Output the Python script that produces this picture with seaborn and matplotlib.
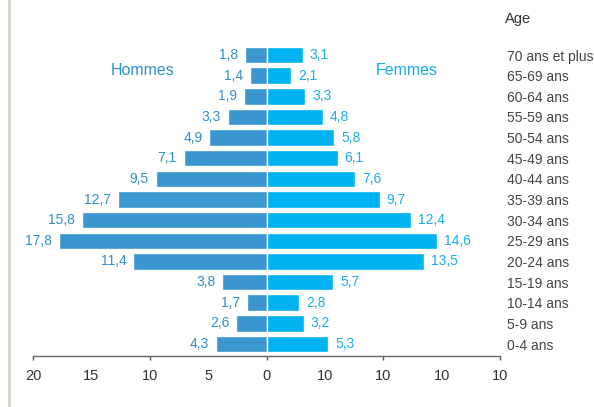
import pandas as pd
import matplotlib.pyplot as plt
import matplotlib.lines as mlines
import seaborn as sns

ages = ["0-4 ans", "5-9 ans", "10-14 ans", "15-19 ans", "20-24 ans", "25-29 ans",
        "30-34 ans", "35-39 ans", "40-44 ans", "45-49 ans", "50-54 ans", "55-59 ans",
        "60-64 ans", "65-69 ans", "70 ans et plus"]
hommes = [4.3, 2.6, 1.7, 3.8, 11.4, 17.8, 15.8, 12.7, 9.5, 7.1, 4.9, 3.3, 1.9, 1.4, 1.8]
femmes = [5.3, 3.2, 2.8, 5.7, 13.5, 14.6, 12.4, 9.7, 7.6, 6.1, 5.8, 4.8, 3.3, 2.1, 3.1]
xtick_vals = [-20, -15, -10, -5, 0, 5, 10, 15, 20]
xtick_labels = ["20", "15", "10", "5", "0", "10", "10", "10", "10"]

c_h = "#3a96cf"
c_f = "#00b2ef"
txt_h = "#2f8fcc"
txt_f = "#19aeea"

df = pd.DataFrame({
    "age": ages * 2,
    "sexe": ["Hommes"] * len(ages) + ["Femmes"] * len(ages),
    "valeur": [-v for v in hommes] + femmes,
})

sns.set_theme(style="white")
plt.rcParams["font.family"] = ["Liberation Sans", "DejaVu Sans"]

fig = plt.figure(figsize=(5.94, 4.07), dpi=100)
ax = fig.add_axes([33 / 594, 1 - 356 / 407, 467 / 594, 321 / 407])

order = ages[::-1]
sns.barplot(data=df, x="valeur", y="age", hue="sexe", order=order,
            hue_order=["Hommes", "Femmes"], palette=[c_h, c_f], dodge=False,
            saturation=1, width=0.8, edgecolor="white", linewidth=1,
            errorbar=None, legend=False, ax=ax)

for cont, vals, col in zip(ax.containers, [hommes, femmes], [txt_h, txt_f]):
    labs = [f"{v:.1f}".replace(".", ",") for v in vals[::-1]]
    ax.bar_label(cont, labels=labs, padding=5, color=col, fontsize=10)

ax.set_xlim(-20, 20)
ax.set_ylim(14.58, -0.97)
ax.set_xlabel("")
ax.set_ylabel("")

ax.xaxis.remove_overlapping_locs = False
ax.set_xticks(xtick_vals)
ax.set_xticklabels(xtick_labels, fontsize=10.5, color="#333333")
ax.set_xticks([-20, -10, 0, 10, 20], minor=True)
ax.tick_params(axis="x", which="major", length=0, pad=9)
ax.tick_params(axis="x", which="minor", length=3, width=1, color="#555555",
               direction="out", bottom=True)

ax.yaxis.tick_right()
ax.tick_params(axis="y", length=0, pad=5, labelsize=10, labelcolor="#444444")

for s in ["top", "left", "right"]:
    ax.spines[s].set_visible(False)
ax.spines["bottom"].set_color("#666666")
ax.spines["bottom"].set_linewidth(1)

ax.text(-10.6, 0.73, "Hommes", color=txt_h, fontsize=11.5, ha="center", va="center")
ax.text(12.0, 0.73, "Femmes", color=txt_f, fontsize=11.5, ha="center", va="center")
fig.text(505 / 594, 1 - 19 / 407, "Age", fontsize=10.5, color="#333333", va="center")

fig.add_artist(mlines.Line2D([9 / 594, 9 / 594], [0, 1], color="#d3d2c8", linewidth=2))

fig.savefig("out.png", dpi=100)
